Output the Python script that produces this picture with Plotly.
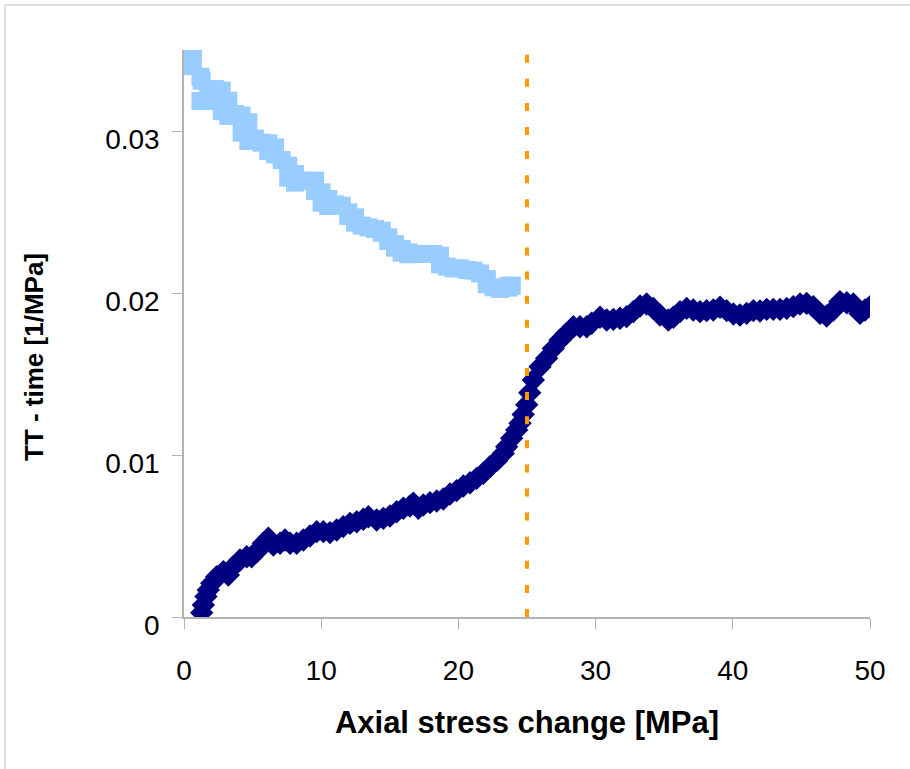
import plotly.graph_objects as go

# Light blue series (squares)
lb_x = [0.32, 0.32, 0.65, 0.65, 1.20, 1.20, 1.29, 1.77, 1.77, 2.26, 2.26, 2.75, 2.75,
        3.23, 3.23, 3.72, 4.20, 4.20, 4.69, 4.69, 5.17, 5.66, 6.14, 6.14, 6.63, 6.63,
        7.12, 7.60, 7.60, 8.09, 8.09, 8.57, 9.06, 9.55, 9.55, 10.03, 10.03, 10.52, 10.52,
        11.01, 11.49, 11.98, 11.98, 12.46, 12.46, 12.95, 13.44, 13.92, 14.41, 14.41,
        14.89, 14.89, 15.38, 15.38, 15.86, 15.86, 16.35, 16.35, 16.96, 17.57, 18.18,
        18.66, 18.66, 19.15, 19.64, 20.12, 20.61, 21.10, 21.58, 22.07, 22.07, 22.55,
        23.04, 23.65, 23.65, 23.89]
lb_y = [0.03475, 0.03401, 0.03475, 0.03401, 0.03335, 0.03185, 0.03311, 0.03259, 0.03185,
        0.03259, 0.03206, 0.03249, 0.03123, 0.03187, 0.03093, 0.03105, 0.03095, 0.02990,
        0.03054, 0.02938, 0.02953, 0.02928, 0.02924, 0.02877, 0.02899, 0.02856, 0.02821,
        0.02786, 0.02712, 0.02735, 0.02681, 0.02693, 0.02693, 0.02693, 0.02630, 0.02621,
        0.02558, 0.02580, 0.02537, 0.02547, 0.02539, 0.02498, 0.02475, 0.02467, 0.02434,
        0.02416, 0.02405, 0.02395, 0.02385, 0.02372, 0.02344, 0.02321, 0.02302, 0.02280,
        0.02272, 0.02249, 0.02251, 0.02239, 0.02241, 0.02241, 0.02241, 0.02230, 0.02177,
        0.02163, 0.02152, 0.02152, 0.02142, 0.02138, 0.02121, 0.02086, 0.02054, 0.02035,
        0.02025, 0.02045, 0.02033, 0.02045]

# Navy series (diamonds)
nv_x = [1.29, 1.41, 1.60, 1.77, 2.02, 2.38, 2.87, 3.23, 3.60, 4.08, 4.57, 4.93, 5.30,
        5.78, 6.15, 6.51, 7.00, 7.36, 7.73, 8.21, 8.70, 9.18, 9.67, 10.16, 10.64, 11.13,
        11.61, 12.10, 12.59, 13.07, 13.44, 14.04, 14.53, 15.01, 15.50, 15.99, 16.47,
        16.72, 17.08, 17.44, 17.93, 18.42, 18.90, 19.39, 19.87, 20.36, 20.85, 21.33,
        21.82, 22.30, 22.79, 23.27, 23.52, 23.88, 24.25, 24.49, 24.72, 24.98, 25.20,
        25.46, 25.95,
        26.43, 26.92, 27.41, 27.89, 28.38, 28.86, 29.35, 29.71, 30.32, 30.81, 31.29,
        31.78, 32.26, 32.75, 33.24, 33.72, 34.21, 34.69, 35.30, 35.67, 36.15, 36.64,
        37.12, 37.61, 38.09, 38.58, 39.07, 39.55, 40.04, 40.52, 41.01, 41.50, 41.98,
        42.47, 42.95, 43.44, 43.93, 44.41, 44.90, 45.38, 45.87, 46.36, 46.84, 47.33,
        47.81, 48.30, 48.78, 49.27, 49.64, 50.00]
nv_y = [0.00027, 0.00074, 0.00126, 0.00167, 0.00208, 0.00249, 0.00280, 0.00259, 0.00311,
        0.00352, 0.00372, 0.00372, 0.00403, 0.00455, 0.00486, 0.00444, 0.00455, 0.00475,
        0.00455, 0.00455, 0.00475, 0.00500, 0.00527, 0.00527, 0.00521, 0.00537, 0.00558,
        0.00578, 0.00588, 0.00603, 0.00619, 0.00599, 0.00609, 0.00623, 0.00650, 0.00671,
        0.00685, 0.00702, 0.00671, 0.00691, 0.00706, 0.00716, 0.00728, 0.00759, 0.00780,
        0.00809, 0.00829, 0.00856, 0.00887, 0.00928, 0.00965, 0.01010, 0.01051, 0.01103,
        0.01154, 0.01196, 0.01250, 0.01310, 0.01385, 0.01463, 0.01545, 0.01597, 0.01658,
        0.01710, 0.01751,
        0.01792, 0.01792, 0.01792, 0.01813, 0.01850, 0.01833, 0.01837, 0.01844, 0.01854,
        0.01885, 0.01920, 0.01932, 0.01905, 0.01864, 0.01833, 0.01850, 0.01885, 0.01905,
        0.01895, 0.01885, 0.01891, 0.01895, 0.01912, 0.01891, 0.01870, 0.01864, 0.01874,
        0.01891, 0.01889, 0.01899, 0.01899, 0.01899, 0.01905, 0.01916, 0.01932, 0.01936,
        0.01916, 0.01874, 0.01858, 0.01895, 0.01947, 0.01940, 0.01932, 0.01874, 0.01895,
        0.01916]

# Vertical marker line
vline_x = [25, 25]
vline_y = [0, 0.0347]

x_ticks = [0, 10, 20, 30, 40, 50]
y_ticks = [0, 0.01, 0.02, 0.03]
y_tick_text = ["0", "0.01", "0.02", "0.03"]

x_title = "Axial stress change [MPa]"
y_title = "TT - time [1/MPa]"

W, H = 910, 769
ML, MR, MT, MB = 184, 40, 50, 152
pw, ph = W - ML - MR, H - MT - MB


def px_x(p):
    return (p - ML) / pw


def px_y(p):
    return (H - MB - p) / ph


fig = go.Figure()
fig.add_trace(go.Scatter(x=lb_x, y=lb_y, mode="markers",
                         marker=dict(symbol="square", size=18, color="#99ccff",
                                     line=dict(width=0)),
                         hoverinfo="x+y"))
fig.add_trace(go.Scatter(x=nv_x, y=nv_y, mode="markers",
                         marker=dict(symbol="diamond", size=18, color="#000080",
                                     line=dict(width=0)),
                         hoverinfo="x+y"))
fig.add_trace(go.Scatter(x=vline_x, y=vline_y, mode="lines",
                         line=dict(color="#ff9900", width=4, dash="8px,16.1px"),
                         hoverinfo="skip"))

axis_font = dict(family="Liberation Sans, Arial, sans-serif", size=28, color="#000000")

fig.update_layout(
    width=W, height=H,
    margin=dict(l=ML, r=MR, t=MT, b=MB),
    paper_bgcolor="white", plot_bgcolor="white",
    showlegend=False,
    xaxis=dict(range=[0, 50], tickvals=x_ticks, ticks="outside", ticklen=10,
               tickcolor="#b3b3b3", linecolor="#b3b3b3", linewidth=1.5,
               showline=True, showgrid=False, zeroline=False,
               tickfont=axis_font, ticklabelstandoff=18,
               title=dict(text=x_title, standoff=26,
                          font=dict(family="Liberation Sans, Arial, sans-serif",
                                    size=31, color="#000000", weight="bold"))),
    yaxis=dict(range=[0, 0.035], tickvals=y_ticks, ticktext=y_tick_text,
               ticks="outside", ticklen=10, tickcolor="#b3b3b3",
               linecolor="#b3b3b3", linewidth=1.5, showline=True,
               showgrid=False, zeroline=False, tickfont=axis_font,
               ticklabelstandoff=7, ticklabelshift=8),
    annotations=[dict(text=y_title, textangle=-90, showarrow=False,
                      xref="paper", yref="paper", x=px_x(34), y=px_y(357),
                      xanchor="center", yanchor="middle",
                      font=dict(family="Liberation Sans, Arial, sans-serif",
                                size=26, color="#000000", weight="bold"))],
    shapes=[
        dict(type="line", xref="paper", yref="paper", x0=px_x(5), x1=px_x(5),
             y0=px_y(5), y1=px_y(H + 5), line=dict(color="#d4d4d4", width=1.5)),
        dict(type="line", xref="paper", yref="paper", x0=px_x(5), x1=px_x(W + 5),
             y0=px_y(5), y1=px_y(5), line=dict(color="#d4d4d4", width=1.5)),
    ],
)

fig.write_html("out.html")
